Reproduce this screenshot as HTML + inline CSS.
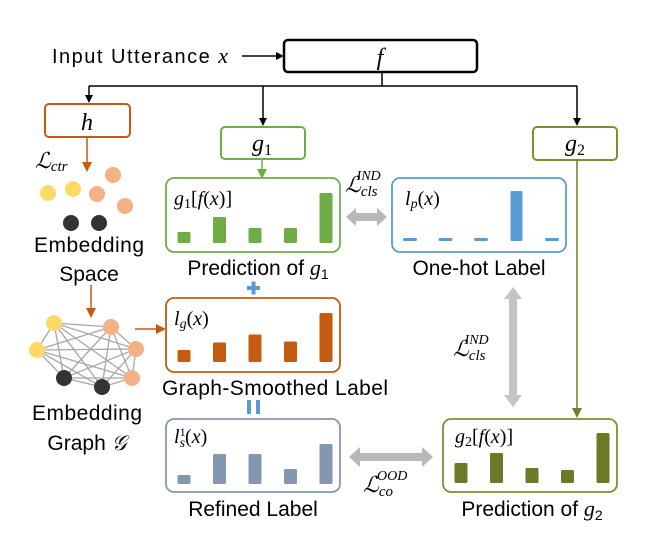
<!DOCTYPE html>
<html><head><meta charset="utf-8">
<style>
html,body{margin:0;padding:0;background:#fff;}
svg{display:block;}
text{font-family:"Liberation Sans",sans-serif;}
.m{font-family:"Liberation Serif",serif;font-style:italic;}
</style></head>
<body>
<svg id="c" width="652" height="542" viewBox="0 0 652 542" xmlns="http://www.w3.org/2000/svg">
<defs>
<marker id="ak" markerWidth="8" markerHeight="8" refX="6" refY="4" orient="auto" markerUnits="userSpaceOnUse"><path d="M0,0 L8,4 L0,8 z" fill="#000"/></marker>
<marker id="ao" markerWidth="10" markerHeight="10" refX="8" refY="5" orient="auto" markerUnits="userSpaceOnUse"><path d="M0,0 L10,5 L0,10 z" fill="#c55a11"/></marker>
<marker id="ag" markerWidth="10" markerHeight="10" refX="8" refY="5" orient="auto" markerUnits="userSpaceOnUse"><path d="M0,0 L10,5 L0,10 z" fill="#70ad47"/></marker>
<marker id="av" markerWidth="10" markerHeight="10" refX="8" refY="5" orient="auto" markerUnits="userSpaceOnUse"><path d="M0,0 L10,5 L0,10 z" fill="#6f7f2a"/></marker>
</defs>

<text x="52" y="63" font-size="20" textLength="176">Input Utterance <tspan class="m" font-size="22">x</tspan></text>
<line x1="242" y1="56" x2="282" y2="56" stroke="#000" stroke-width="1.5" marker-end="url(#ak)"/>
<rect x="284" y="40" width="193" height="32" rx="4" fill="#fff" stroke="#000" stroke-width="2.5"/>
<text x="380" y="65" class="m" font-size="24" text-anchor="middle">f</text>

<polyline points="382,72 382,86" fill="none" stroke="#000" stroke-width="1.5"/>
<line x1="89" y1="86" x2="577" y2="86" stroke="#000" stroke-width="1.5"/>
<line x1="89" y1="86" x2="89" y2="101" stroke="#000" stroke-width="1.5" marker-end="url(#ak)"/>
<line x1="263" y1="86" x2="263" y2="124" stroke="#000" stroke-width="1.5" marker-end="url(#ak)"/>
<line x1="577" y1="86" x2="577" y2="124" stroke="#000" stroke-width="1.5" marker-end="url(#ak)"/>

<rect x="45" y="104" width="85" height="33" rx="4" fill="#fff" stroke="#c55a11" stroke-width="2"/>
<text x="87" y="130" class="m" font-size="24" text-anchor="middle">h</text>
<rect x="221" y="127" width="84" height="32" rx="4" fill="#fff" stroke="#70ad47" stroke-width="2"/>
<text x="262" y="151" class="m" font-size="24" text-anchor="middle">g<tspan font-style="normal" font-size="16" dy="4">1</tspan></text>
<rect x="533" y="127" width="84" height="33" rx="4" fill="#fff" stroke="#7f8f2f" stroke-width="2"/>
<text x="575" y="151" class="m" font-size="24" text-anchor="middle">g<tspan font-style="normal" font-size="16" dy="4">2</tspan></text>

<line x1="87" y1="137" x2="87" y2="170" stroke="#c55a11" stroke-width="1.5" marker-end="url(#ao)"/>
<text x="35" y="168" class="m" font-size="22">ℒ<tspan font-size="15" dy="3">ctr</tspan></text>
<g>
<circle cx="48" cy="193" r="8" fill="#ffd966"/><circle cx="73" cy="189" r="8" fill="#ffd966"/>
<circle cx="113" cy="175" r="8" fill="#f4b183"/><circle cx="97" cy="194" r="8" fill="#f4b183"/><circle cx="125" cy="206" r="8" fill="#f4b183"/>
<circle cx="71" cy="223" r="8" fill="#333"/><circle cx="99" cy="223" r="8" fill="#333"/>
</g>
<text x="89" y="252" font-size="21" text-anchor="middle" textLength="110">Embedding</text>
<text x="89" y="281" font-size="21" text-anchor="middle">Space</text>
<line x1="91" y1="285" x2="91" y2="316" stroke="#c55a11" stroke-width="1.5" marker-end="url(#ao)"/>

<g id="graph"></g>
<text x="87" y="420" font-size="21" text-anchor="middle" textLength="110">Embedding</text>
<text x="87" y="450" font-size="21" text-anchor="middle">Graph <tspan class="m" font-family="Liberation Serif">𝒢</tspan></text>
<line x1="135" y1="329" x2="164" y2="329" stroke="#c55a11" stroke-width="1.5" marker-end="url(#ao)"/>

<line x1="262" y1="159" x2="262" y2="177" stroke="#70ad47" stroke-width="1.5" marker-end="url(#ag)"/>

<rect x="166" y="178" width="174" height="74" rx="8" fill="#fff" stroke="#70ad47" stroke-width="1.8"/>
<text x="174" y="205" class="m" font-size="20">g<tspan font-style="normal" font-size="14" dy="3">1</tspan><tspan font-style="normal" dy="-3">[</tspan>f<tspan font-style="normal">(</tspan>x<tspan font-style="normal">)]</tspan></text>
<text x="258" y="275" font-size="21" text-anchor="middle">Prediction of <tspan class="m" font-size="22">g</tspan><tspan font-size="14" dy="4">1</tspan></text>

<rect x="392" y="178" width="174" height="74" rx="8" fill="#fff" stroke="#5b9bd5" stroke-width="1.8"/>
<text x="405" y="205" class="m" font-size="20">l<tspan font-size="14" dy="3">p</tspan><tspan font-style="normal" dy="-3">(</tspan>x<tspan font-style="normal">)</tspan></text>
<text x="479" y="275" font-size="21" text-anchor="middle">One-hot Label</text>

<rect x="166" y="298" width="174" height="74" rx="8" fill="#fff" stroke="#c55a11" stroke-width="1.8"/>
<text x="174" y="325" class="m" font-size="20">l<tspan font-size="14" dy="3">g</tspan><tspan font-style="normal" dy="-3">(</tspan>x<tspan font-style="normal">)</tspan></text>
<text x="275" y="395" font-size="21" text-anchor="middle" textLength="226">Graph-Smoothed Label</text>

<rect x="166" y="419" width="174" height="73" rx="8" fill="#fff" stroke="#8497b0" stroke-width="1.8"/>
<text x="174" y="443" class="m" font-size="20">l<tspan font-style="normal" font-size="12" dy="-7">1</tspan><tspan font-size="14" dx="-6" dy="11">s</tspan><tspan font-style="normal" dy="-4">(</tspan>x<tspan font-style="normal">)</tspan></text>
<text x="253" y="516" font-size="21" text-anchor="middle">Refined Label</text>

<rect x="443" y="419" width="174" height="73" rx="8" fill="#fff" stroke="#7f8f2f" stroke-width="1.8"/>
<text x="455" y="443" class="m" font-size="20">g<tspan font-style="normal" font-size="14" dy="3">2</tspan><tspan font-style="normal" dy="-3">[</tspan>f<tspan font-style="normal">(</tspan>x<tspan font-style="normal">)]</tspan></text>
<text x="532" y="516" font-size="21" text-anchor="middle">Prediction of <tspan class="m" font-size="22">g</tspan><tspan font-size="14" dy="4">2</tspan></text>

<g><rect x="247" y="286" width="13" height="4" fill="#5b9bd5"/><rect x="251.5" y="281.5" width="4" height="13" fill="#5b9bd5"/></g>
<g><rect x="247" y="400" width="4" height="14" fill="#5b9bd5"/><rect x="256" y="400" width="4" height="14" fill="#5b9bd5"/></g>

<path d="M346,217 L356,208 L356,213 L377,213 L377,208 L387,217 L377,226 L377,221 L356,221 L356,226 z" fill="#b8b8b8"/>
<text x="345" y="192" class="m" font-size="22">ℒ<tspan font-size="15" dy="4">cls</tspan><tspan font-size="14" dx="-21" dy="-16">IND</tspan></text>
<path d="M513,287 L522,299 L517,299 L517,395 L522,395 L513,407 L504,395 L509,395 L509,299 L504,299 z" fill="#c4c4c4"/>
<text x="453" y="356" class="m" font-size="22">ℒ<tspan font-size="15" dy="4">cls</tspan><tspan font-size="14" dx="-21" dy="-16">IND</tspan></text>
<path d="M349,457 L360,447 L360,453 L422,453 L422,447 L433,457 L422,467 L422,461 L360,461 L360,467 z" fill="#b8b8b8"/>
<text x="363" y="492" class="m" font-size="22">ℒ<tspan font-size="15" dy="4">co</tspan><tspan font-size="14" dx="-16" dy="-16">OOD</tspan></text>

<line x1="577" y1="160" x2="577" y2="416" stroke="#6f7f2a" stroke-width="1.5" marker-end="url(#av)"/>

<g id="bars"></g>
</svg>
<script>
const categories = ["c1","c2","c3","c4","c5"];
const predG1 = [0.22, 0.52, 0.30, 0.30, 1.0];
const oneHot = [0.06, 0.06, 0.06, 1.0, 0.06];
const graphSmoothed = [0.24, 0.39, 0.55, 0.41, 0.98];
const refined = [0.18, 0.60, 0.60, 0.30, 0.80];
const predG2 = [0.40, 0.60, 0.30, 0.26, 1.0];

const NS = "http://www.w3.org/2000/svg";
const barsG = document.getElementById('bars');
function drawBars(vals, boxX, baseline, color, name, w, dashIdx) {
  const maxH = 50;
  vals.forEach((v, i) => {
    const cx = boxX + 18 + i * 35.5;
    const h = v * maxH;
    const bw = (dashIdx && v < 0.1) ? 14 : w;
    const r = document.createElementNS(NS, 'rect');
    r.setAttribute('x', cx - bw / 2);
    r.setAttribute('y', baseline - h);
    r.setAttribute('width', bw);
    r.setAttribute('height', h);
    r.setAttribute('rx', 1.5);
    r.setAttribute('fill', color);
    
    
    barsG.appendChild(r);
  });
}
drawBars(predG1, 166, 243, '#70ad47', 'prediction-g1', 13);
drawBars(oneHot, 392, 241, '#5b9bd5', 'one-hot', 12, true);
drawBars(graphSmoothed, 166, 362, '#c55a11', 'graph-smoothed', 13);
drawBars(refined, 166, 484, '#8497b0', 'refined', 13);
drawBars(predG2, 443, 483, '#6b7a26', 'prediction-g2', 13);

const gg = document.getElementById('graph');
const nodes = [[54,323,'#ffd966'],[37,350,'#ffd966'],[111,327,'#f4b183'],[136,349,'#f4b183'],[132,378,'#f4b183'],[64,378,'#333'],[102,387,'#333']];
for (let i = 0; i < nodes.length; i++) for (let j = i + 1; j < nodes.length; j++) {
  const l = document.createElementNS(NS, 'line');
  l.setAttribute('x1', nodes[i][0]); l.setAttribute('y1', nodes[i][1]);
  l.setAttribute('x2', nodes[j][0]); l.setAttribute('y2', nodes[j][1]);
  l.setAttribute('stroke', '#a8a8a8'); l.setAttribute('stroke-width', '1.3');
  
  
  gg.appendChild(l);
}
nodes.forEach(n => {
  const c = document.createElementNS(NS, 'circle');
  c.setAttribute('cx', n[0]); c.setAttribute('cy', n[1]); c.setAttribute('r', 8);
  c.setAttribute('fill', n[2]);
  
  
  gg.appendChild(c);
});
</script>
</body></html>
